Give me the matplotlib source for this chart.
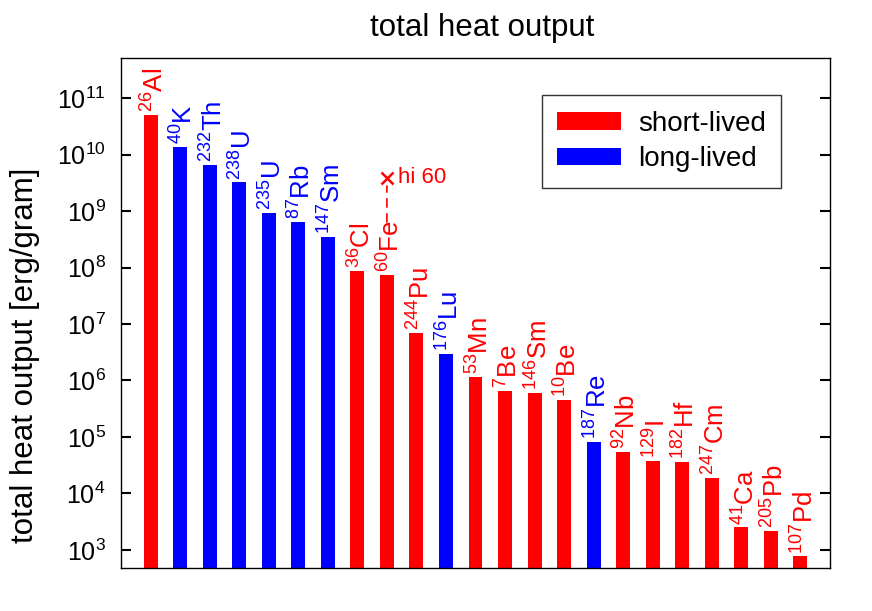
import numpy as np
import matplotlib
matplotlib.use("Agg")
import matplotlib.pyplot as plt
from matplotlib.patches import Patch
from matplotlib.ticker import LogLocator, NullLocator

plt.rcParams["font.family"] = ["Liberation Sans", "DejaVu Sans"]
plt.rcParams["mathtext.fontset"] = "custom"
plt.rcParams["mathtext.rm"] = "Liberation Sans"
plt.rcParams["mathtext.it"] = "Liberation Sans"
plt.rcParams["mathtext.bf"] = "Liberation Sans"

# --- datos ---
masas = [26, 40, 232, 238, 235, 87, 147, 36, 60, 244, 176, 53, 7, 146, 10,
         187, 92, 129, 182, 247, 41, 205, 107]
elementos = ["Al", "K", "Th", "U", "U", "Rb", "Sm", "Cl", "Fe", "Pu", "Lu", "Mn",
             "Be", "Sm", "Be", "Re", "Nb", "I", "Hf", "Cm", "Ca", "Pb", "Pd"]
vida = ["short", "long", "long", "long", "long", "long", "long", "short", "short",
        "short", "long", "short", "short", "short", "short", "long", "short",
        "short", "short", "short", "short", "short", "short"]
calor = [5.1e10, 1.36e10, 6.6e9, 3.2e9, 9.4e8, 6.4e8, 3.45e8, 8.6e7, 7.4e7,
         7.0e6, 2.96e6, 1.17e6, 6.6e5, 6.0e5, 4.5e5, 8.2e4, 5.4e4, 3.8e4,
         3.6e4, 1.9e4, 2.5e3, 2.2e3, 7.7e2]
fe_hi = 3.9e9
fe_hi_label = "hi 60"

colores = {"short": "#ff0000", "long": "#0000ff"}
nombres_leyenda = {"short": "short-lived", "long": "long-lived"}

fig = plt.figure(figsize=(8.72, 6.11), dpi=100)
ax = fig.add_axes([0.1388, 0.0704, 0.813, 0.8346])

x = np.arange(1, len(calor) + 1)
cols = [colores[v] for v in vida]
ax.bar(x, calor, width=0.47, color=cols, bottom=1e-3)

ax.set_yscale("log")
ax.set_ylim(480, 5.1e11)
ax.set_xlim(0, len(calor) + 1)

# --- etiquetas de cada barra ---
for xi, v, m, el, c in zip(x, calor, masas, elementos, cols):
    ax.annotate(r"$^{%d}$%s" % (m, el), xy=(xi, v), xytext=(3, 2),
                textcoords="offset points", rotation=90, ha="center",
                va="bottom", fontsize=18.5, color=c)

# --- valor alto del 60Fe ---
i_fe = elementos.index("Fe")
ax.annotate("", xy=(x[i_fe], fe_hi), xytext=(x[i_fe], calor[i_fe]),
            arrowprops=dict(arrowstyle="-", color="#ff0000", lw=1.2,
                            linestyle=(0, (5, 4)), shrinkA=38, shrinkB=6))
ax.plot([x[i_fe]], [fe_hi], marker="x", color="#ff0000", markersize=8, mew=1.8)
ax.annotate(fe_hi_label, xy=(x[i_fe], fe_hi), xytext=(8, 0),
            textcoords="offset points", ha="left", va="center",
            fontsize=16, color="#ff0000")

# --- ejes ---
ax.yaxis.set_major_locator(LogLocator(base=10, numticks=20))
ax.yaxis.set_minor_locator(NullLocator())
ax.xaxis.set_major_locator(NullLocator())
ax.tick_params(axis="y", which="major", direction="in", length=7, width=1.5,
               left=True, right=True, labelsize=18, pad=11)
ax.tick_params(axis="x", labelbottom=False)
for s in ax.spines.values():
    s.set_linewidth(1.0)

ax.set_ylabel("total heat output [erg/gram]", fontsize=22.5)
ax.yaxis.set_label_coords(-0.114, 0.418)
ax.set_title("total heat output", fontsize=22.5, pad=16, x=0.51)

handles = [Patch(facecolor=colores[k], edgecolor="none", label=nombres_leyenda[k])
           for k in ["short", "long"]]
leg = ax.legend(handles=handles, loc="upper right", bbox_to_anchor=(0.931, 0.927),
                fontsize=20, frameon=True, fancybox=False, edgecolor="black",
                handlelength=2.3, handleheight=0.6, handletextpad=0.6,
                borderpad=0.55, labelspacing=0.35, borderaxespad=0)
leg.get_frame().set_linewidth(1.0)

fig.savefig("out.png", dpi=100)
